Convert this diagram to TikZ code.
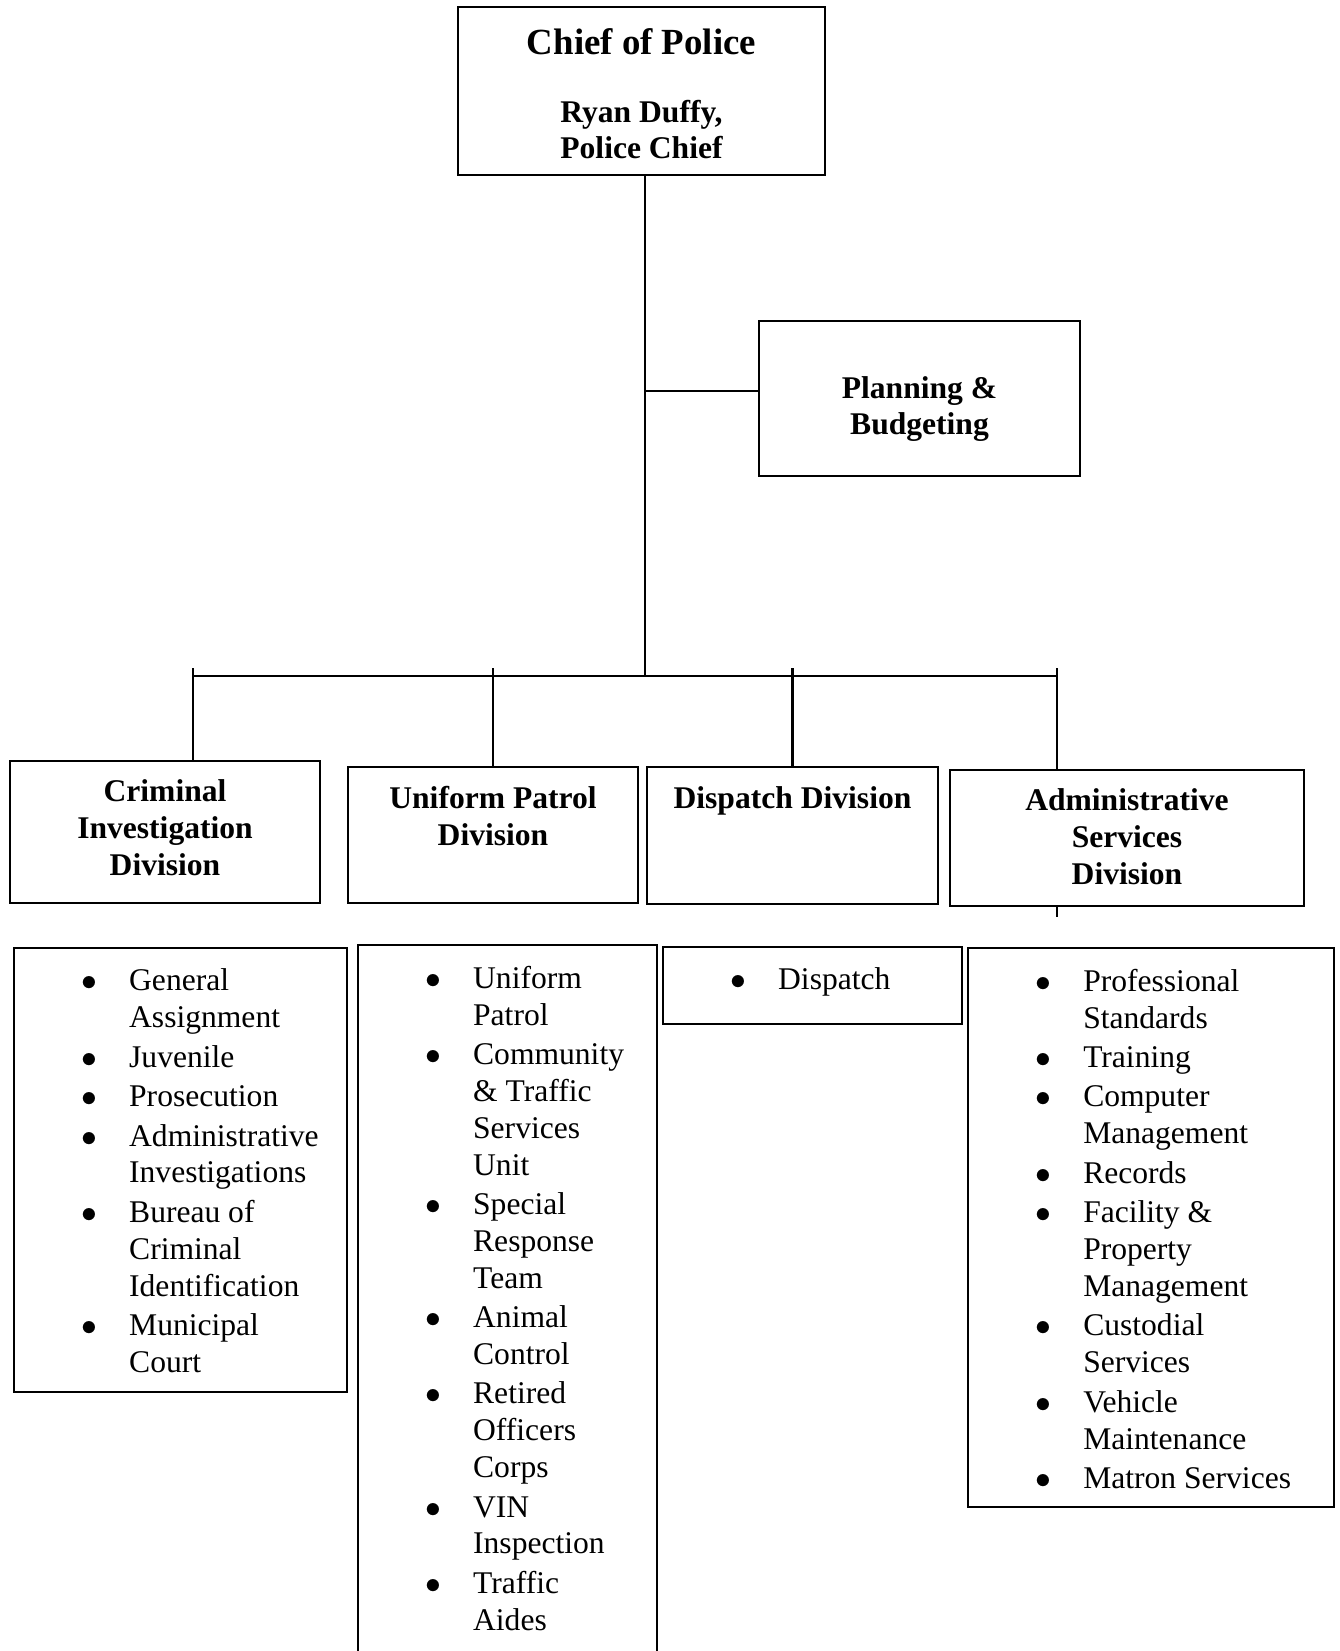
\documentclass[tikz,border=0pt]{standalone}
\usepackage{fontspec}
\setmainfont{Liberation Serif}
\usepackage{tikz}
\usetikzlibrary{positioning}

\newcommand{\bul}{\makebox[18pt][l]{$\bullet$}}
\newcommand{\ind}{\hspace*{18pt}}

\begin{document}
\begin{tikzpicture}[
  x=0.38pt, y=-0.38pt,
  every node/.style={font=\fontsize{12}{14}\selectfont},
  box/.style={draw, line width=0.9pt, inner sep=0pt},
  head/.style={font=\fontsize{12}{14}\selectfont\bfseries, align=center, inner sep=0pt},
  list/.style={align=left, inner sep=0pt},
  link/.style={line width=0.9pt}
]
  \useasboundingbox (0,0) rectangle (1339,1651);
  \clip (0,0) rectangle (1339,1651);

  % top of the chart
  \node[box, minimum width=139.5pt, minimum height=63.8pt] (chief) at (641.5,91) {};
  \node[head, below=8.3pt of chief.north] (chieft) {%
    {\fontsize{14}{16}\selectfont Chief of Police}\\[11.8pt]
    Ryan Duffy,\\ Police Chief};
  \node[box, minimum width=122pt, minimum height=58.9pt] (plan) at (919.5,398.5) {};
  \node[head, below=21.2pt of plan.north] (plant) {Planning \&\\ Budgeting};

  % divisions
  \node[box, minimum width=117.6pt, minimum height=54pt] (cid) at (165,832) {};
  \node[head, below=7.5pt of cid.north] (cidt) {Criminal\\ Investigation\\ Division};
  \node[box, minimum width=110.2pt, minimum height=51.7pt] (upd) at (493,835) {};
  \node[head, below=7.5pt of upd.north] (updt) {Uniform Patrol\\ Division};
  \node[box, minimum width=110.6pt, minimum height=52pt] (disp) at (792.5,835.5) {};
  \node[head, below=7.5pt of disp.north] (dispt) {Dispatch Division};
  \node[box, minimum width=134.5pt, minimum height=51.7pt] (asd) at (1127,838) {};
  \node[head, below=7.5pt of asd.north] (asdt) {Administrative\\ Services\\ Division};

  % units of each division
  \node[box, minimum width=126.5pt, minimum height=168.7pt] (cidl) at (180.5,1170) {};
  \node[list, below right=8.2pt and 26pt of cidl.north west] (cidlt) {%
    \bul General\\ \ind Assignment\\[1pt]
    \bul Juvenile\\[1pt]
    \bul Prosecution\\[1pt]
    \bul Administrative\\ \ind Investigations\\[1pt]
    \bul Bureau of\\ \ind Criminal\\ \ind Identification\\[1pt]
    \bul Municipal\\ \ind Court};
  \node[box, minimum width=113.6pt, minimum height=286.9pt] (updl) at (507.5,1322.5) {};
  \node[list, below right=8.2pt and 26pt of updl.north west] (updlt) {%
    \bul Uniform\\ \ind Patrol\\[1pt]
    \bul Community\\ \ind \& Traffic\\ \ind Services\\ \ind Unit\\[1pt]
    \bul Special\\ \ind Response\\ \ind Team\\[1pt]
    \bul Animal\\ \ind Control\\[1pt]
    \bul Retired\\ \ind Officers\\ \ind Corps\\[1pt]
    \bul VIN\\ \ind Inspection\\[1pt]
    \bul Traffic\\ \ind Aides};
  \node[box, minimum width=113.6pt, minimum height=29.3pt] (displ) at (812.5,985.5) {};
  \node[list, below right=8.2pt and 26pt of displ.north west] (displt) {\bul Dispatch};
  \node[box, minimum width=139pt, minimum height=212.4pt] (asdl) at (1151,1227.5) {};
  \node[list, below right=8.2pt and 26pt of asdl.north west] (asdlt) {%
    \bul Professional\\ \ind Standards\\[1pt]
    \bul Training\\[1pt]
    \bul Computer\\ \ind Management\\[1pt]
    \bul Records\\[1pt]
    \bul Facility \&\\ \ind Property\\ \ind Management\\[1pt]
    \bul Custodial\\ \ind Services\\[1pt]
    \bul Vehicle\\ \ind Maintenance\\[1pt]
    \bul Matron Services};

  % lines
  \coordinate (spine) at (645,0);
  \coordinate (bus) at (645,676);
  \coordinate (planline) at (0,391);
  \coordinate (tick) at (0,668);
  \coordinate (cidx) at (193,668);
  \coordinate (asdx) at (1057,668);
  \coordinate (asdend) at (1057,917);
  \draw[link] (spine |- chief.south) -- (bus);
  \draw[link] (plan.west |- planline) -- (spine |- planline);
  \draw[link] (cidx |- bus) -- (asdx |- bus);
  \draw[link] (cidx) -- (cidx |- cid.north);
  \draw[link] (upd.north |- tick) -- (upd.north);
  \draw[link] (disp.north |- tick) -- (disp.north);
  \draw[link] (asdx) -- (asdx |- asd.north);
  \draw[link] (asdx |- asd.south) -- (asdend);
\end{tikzpicture}
\end{document}
